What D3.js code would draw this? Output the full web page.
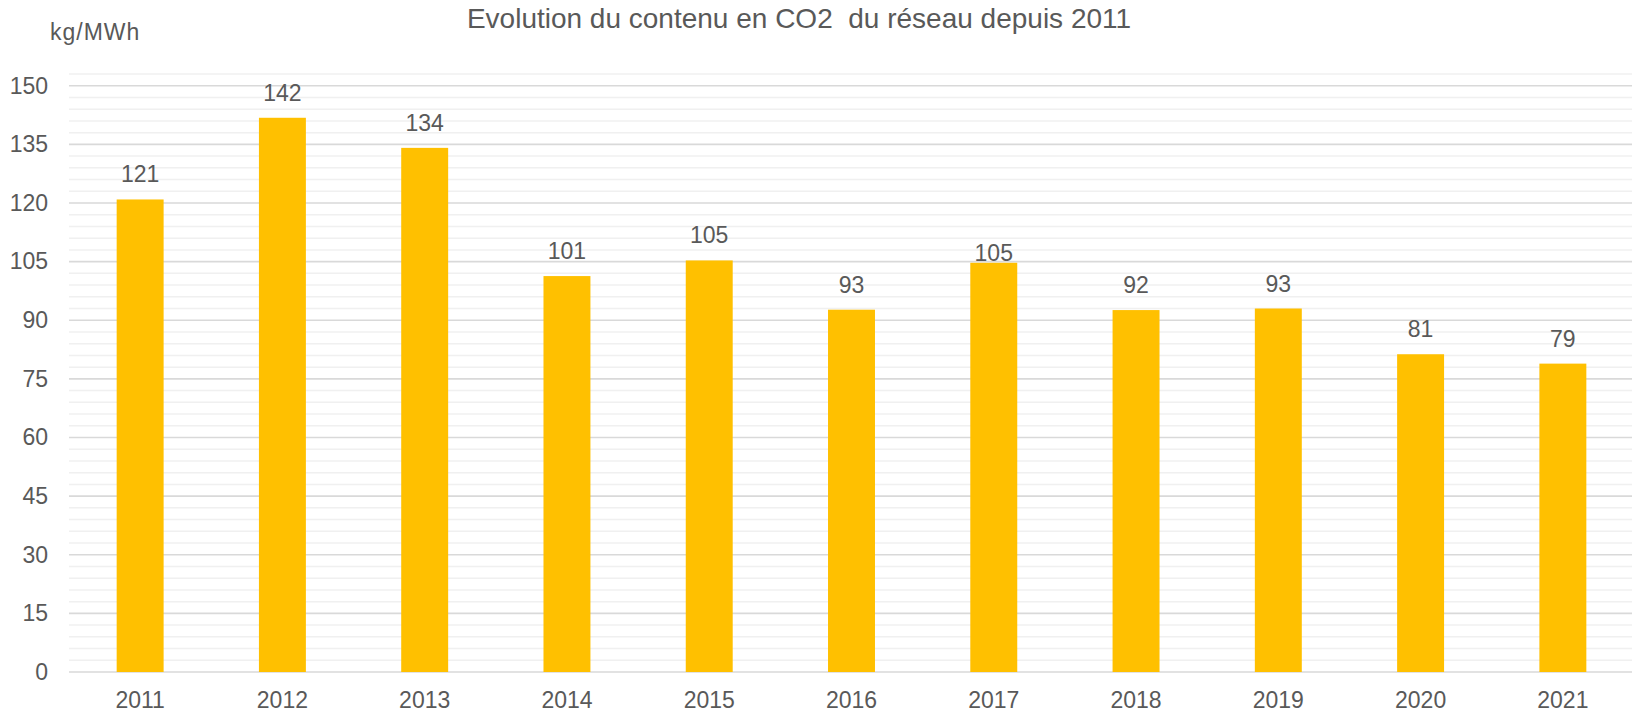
<!DOCTYPE html>
<html>
<head>
<meta charset="utf-8">
<script src="https://cdn.jsdelivr.net/npm/d3@7"></script>
<style>
	html, body { margin: 0; padding: 0; background: #ffffff; overflow: hidden; }
	svg { display: block; font-family: 'Liberation Sans', Arial, sans-serif; }
</style>
</head>
<body>
<svg id="chart" width="1632" height="717"></svg>
<script>
	'use strict';

	////////// Data //////////
	const years = ['2011', '2012', '2013', '2014', '2015', '2016', '2017', '2018', '2019', '2020', '2021'];
	const co2Values = [120.9, 141.8, 134.1, 101.3, 105.3, 92.7, 104.7, 92.6, 93.0, 81.3, 78.9];
	const valueLabels = ['121', '142', '134', '101', '105', '93', '105', '92', '93', '81', '79'];
	const yTicks = [0, 15, 30, 45, 60, 75, 90, 105, 120, 135, 150];
	const minorStep = 3;
	const titleText = 'Evolution du contenu en CO2  du réseau depuis 2011';
	const unitText = 'kg/MWh';

	////////// Hard Coded Defs //////////
	const width = 1632;
	const plotLeft = 69;
	const plotRight = 1634;
	const plotBottom = 672;
	const plotTop = 74;
	const yMax = 153;
	const barColor = '#FFC000';
	const textColor = '#595959';
	const majorGridColor = '#d9d9d9';
	const minorGridColor = '#f0f0f0';
	const tickFont = 23;
	const fontFamily = "'Liberation Sans', Arial, sans-serif";

	const svg = d3.select('#chart');

	const x = d3.scaleBand()
		.domain(years)
		.range([plotLeft, plotRight])
		.paddingInner(0.67)
		.paddingOuter(0.335);

	const y = d3.scaleLinear()
		.domain([0, yMax])
		.range([plotBottom, plotTop]);

	// minor grid (every 3 units)
	const minorTicks = d3.range(0, yMax + 0.001, minorStep).filter(v => !yTicks.includes(v));
	svg.append('g').attr('class', 'minorGrid')
		.selectAll('line').data(minorTicks).join('line')
		.attr('x1', plotLeft).attr('x2', width)
		.attr('y1', d => y(d)).attr('y2', d => y(d))
		.attr('stroke', minorGridColor)
		.attr('stroke-width', 1.5);

	// major grid
	svg.append('g').attr('class', 'majorGrid')
		.selectAll('line').data(yTicks).join('line')
		.attr('x1', plotLeft).attr('x2', width)
		.attr('y1', d => y(d)).attr('y2', d => y(d))
		.attr('stroke', majorGridColor)
		.attr('stroke-width', 1.6);

	// bars
	svg.append('g').attr('class', 'bars')
		.selectAll('rect').data(years).join('rect')
		.attr('x', d => x(d))
		.attr('width', x.bandwidth())
		.attr('y', (d, i) => y(co2Values[i]))
		.attr('height', (d, i) => y(0) - y(co2Values[i]))
		.attr('fill', barColor);

	// value labels (2017 label was nudged down in the original)
	svg.append('g').attr('class', 'valueLabels')
		.selectAll('text').data(years).join('text')
		.attr('x', d => x(d) + x.bandwidth() / 2)
		.attr('y', (d, i) => y(co2Values[i]) - (d === '2017' ? 2 : 17))
		.attr('text-anchor', 'middle')
		.attr('font-size', tickFont)
		.attr('fill', textColor)
		.text((d, i) => valueLabels[i]);

	// y axis labels
	const yAxis = svg.append('g')
		.attr('transform', `translate(${plotLeft},0)`)
		.call(d3.axisLeft(y).tickValues(yTicks).tickSize(0).tickPadding(21));
	yAxis.select('.domain').remove();
	yAxis.selectAll('text')
		.attr('font-size', tickFont)
		.attr('font-family', fontFamily)
		.attr('fill', textColor);

	// x axis labels
	const xAxis = svg.append('g')
		.attr('transform', `translate(0,${plotBottom})`)
		.call(d3.axisBottom(x).tickSize(0).tickPadding(20));
	xAxis.select('.domain').remove();
	xAxis.selectAll('text')
		.attr('font-size', tickFont)
		.attr('font-family', fontFamily)
		.attr('fill', textColor);

	// title
	svg.append('text')
		.attr('x', 799)
		.attr('y', 28)
		.attr('text-anchor', 'middle')
		.attr('font-size', 28)
		.attr('fill', textColor)
		.style('white-space', 'pre')
		.text(titleText);

	// unit
	svg.append('text')
		.attr('x', 50)
		.attr('y', 40)
		.attr('font-size', 23)
		.attr('letter-spacing', 1)
		.attr('fill', textColor)
		.text(unitText);
</script>
</body>
</html>
